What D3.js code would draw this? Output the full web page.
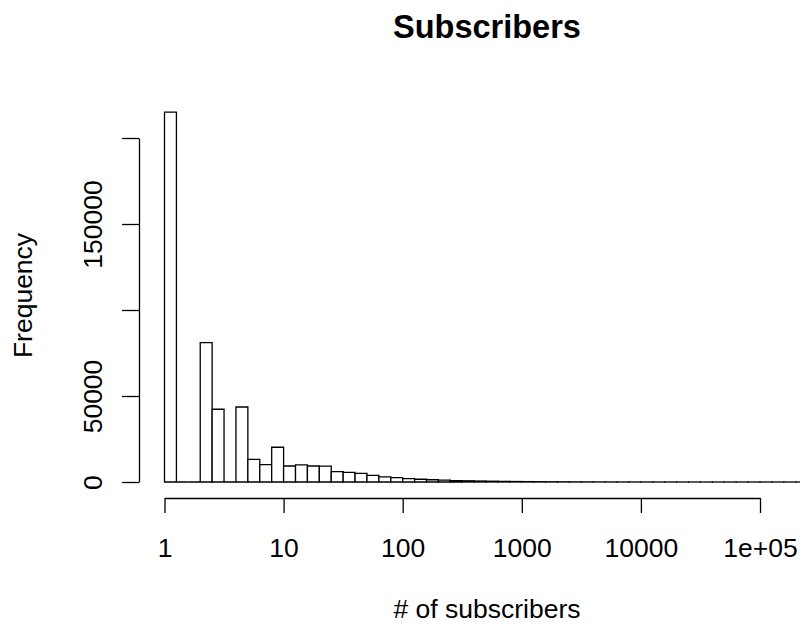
<!DOCTYPE html>
<html>
<head>
<meta charset="utf-8">
<script src="https://cdn.jsdelivr.net/npm/d3@7"></script>
<style>
  html, body { margin: 0; padding: 0; background: #fff; }
  svg { display: block; }
  text { font-family: "Liberation Sans", Arial, Helvetica, sans-serif; fill: #000; }
</style>
</head>
<body>
<script>
// ---- data (log10 bin lower edges, bin width 0.1) ----
const binStart = [0.0,0.1,0.2,0.3,0.4,0.5,0.6,0.7,0.8,0.9,
                  1.0,1.1,1.2,1.3,1.4,1.5,1.6,1.7,1.8,1.9,
                  2.0,2.1,2.2,2.3,2.4,2.5,2.6,2.7,2.8,2.9,
                  3.0,3.1,3.2,3.3,3.4,3.5,3.6,3.7,3.8,3.9,
                  4.0,4.1,4.2,4.3,4.4,4.5,4.6,4.7,4.8,4.9,
                  5.0,5.1,5.2,5.3];
const binWidth = 0.1;
const counts = [215000,0,0,81000,42300,0,43600,13200,10100,20200,
                9300,10000,9300,9200,6000,5600,5000,3800,3000,2600,
                2000,1600,1300,1050,850,700,560,450,360,290,
                230,180,140,110,85,65,50,38,29,22,
                17,13,10,8,6,5,4,3,2,2,
                1,1,1,1];
const xTickValues = [1, 10, 100, 1000, 10000, 100000];
const xTickLabels = ["1", "10", "100", "1000", "10000", "1e+05"];
const yTickValues = [0, 50000, 100000, 150000, 200000];
const yTickLabels = ["0", "50000", "", "150000", ""];
const title = "Subscribers";
const xLabel = "# of subscribers";
const yLabel = "Frequency";

// ---- layout ----
const W = 800, H = 625;
const svg = d3.select("body").append("svg").attr("width", W).attr("height", H);

const x = d3.scaleLog().domain([1, 1e5]).range([164.5, 760]);
const y = d3.scaleLinear().domain([0, 200000]).range([482, 138]);

// bars (drawn as closed paths so empty bins still show their outline)
svg.append("g").selectAll("path")
  .data(binStart.map((b, i) => ({ lo: b, hi: b + binWidth, c: counts[i] })))
  .enter().append("path")
  .attr("d", d => {
    const x0 = x(Math.pow(10, d.lo)), x1 = x(Math.pow(10, d.hi));
    const y0 = y(0), y1 = y(d.c);
    const p = d3.path();
    p.moveTo(x0, y0); p.lineTo(x0, y1); p.lineTo(x1, y1); p.lineTo(x1, y0); p.closePath();
    return p.toString();
  })
  .attr("fill", "#fff")
  .attr("stroke", "#000")
  .attr("stroke-width", 1.3);

// x axis
const xAxis = d3.axisBottom(x)
  .tickValues(xTickValues)
  .tickFormat((d, i) => xTickLabels[i])
  .tickSizeInner(15).tickSizeOuter(0);
const gx = svg.append("g").attr("transform", "translate(0,498)").call(xAxis);
gx.selectAll("path, line").attr("stroke", "#000").attr("stroke-width", 1.3);
gx.selectAll("text")
  .attr("y", 59).attr("dy", 0)
  .style("font-size", "26.5px")
  .style("font-family", "'Liberation Sans', Arial, sans-serif")
  .attr("fill", "#000");

// y axis
const yAxis = d3.axisLeft(y)
  .tickValues(yTickValues)
  .tickFormat((d, i) => yTickLabels[i])
  .tickSizeInner(17).tickSizeOuter(0);
const gy = svg.append("g").attr("transform", "translate(139,0)").call(yAxis);
gy.selectAll("path, line").attr("stroke", "#000").attr("stroke-width", 1.3);
gy.selectAll("text")
  .attr("transform", "rotate(-90)")
  .attr("x", 0).attr("y", -37).attr("dy", 0)
  .attr("text-anchor", "middle")
  .style("font-size", "26.5px")
  .style("font-family", "'Liberation Sans', Arial, sans-serif")
  .attr("fill", "#000");

// title
svg.append("text")
  .attr("x", 487).attr("y", 38)
  .attr("text-anchor", "middle")
  .style("font-size", "32.5px").style("font-weight", "bold")
  .text(title);

// x label
svg.append("text")
  .attr("x", 487).attr("y", 618)
  .attr("text-anchor", "middle")
  .style("font-size", "26.5px")
  .text(xLabel);

// y label
svg.append("text")
  .attr("transform", "translate(32,295.5) rotate(-90)")
  .attr("text-anchor", "middle")
  .style("font-size", "26.5px")
  .text(yLabel);
</script>
</body>
</html>
